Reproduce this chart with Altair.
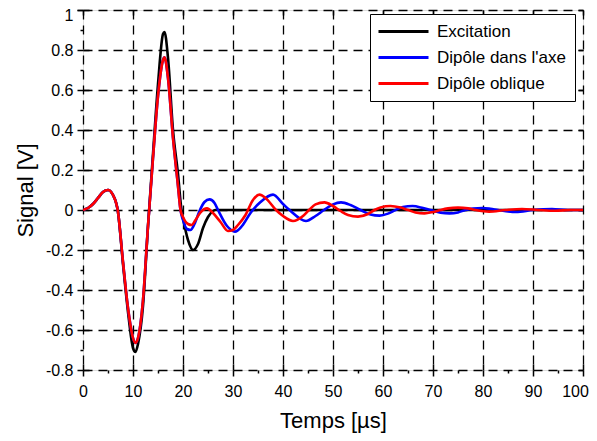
import altair as alt
import pandas as pd

# ---- data ----
series_names = ["Excitation", "Dipôle dans l'axe", "Dipôle oblique"]
series_colors = ["#000000", "#0000ff", "#ff0000"]

t_exc = [0, 1, 2, 3, 4, 5, 6, 7, 8, 9, 10, 10.5, 11, 12, 13, 14, 15, 16, 16.3,
         17, 18, 19, 19.7, 20, 21, 22, 23, 24, 25, 26, 26.5, 100]
v_exc = [0, 0.01, 0.03, 0.06, 0.09, 0.1, 0.075, -0.01, -0.27, -0.51, -0.69, -0.71,
         -0.67, -0.48, -0.08, 0.28, 0.63, 0.88, 0.89, 0.76, 0.4, 0.18, 0.0, -0.04,
         -0.15, -0.2, -0.17, -0.09, -0.035, -0.005, 0.0, 0.0]

t_axe = [0, 1, 2, 3, 4, 5, 6, 7, 8, 9, 10, 10.5, 11, 12, 13, 14, 15, 16, 16.3,
         17, 18, 19, 19.5, 20, 20.8, 21.5, 22.3, 23.3, 24.3, 25.3, 26.3, 27, 28.8,
         30.4, 31.8, 33.5, 35.5, 38, 40, 41.3, 44.6, 46.5, 48.2, 50, 51.6, 53.5,
         55.5, 57.5, 59.3, 61, 62.5, 64, 65.9, 68, 69.5, 71.5, 73.3, 75, 76.5, 78,
         79.9, 81.5, 83, 86.6, 90, 93.8, 97, 100]
v_axe = [0, 0.01, 0.03, 0.06, 0.09, 0.1, 0.075, -0.01, -0.26, -0.49, -0.64, -0.665,
         -0.64, -0.45, -0.08, 0.26, 0.57, 0.75, 0.763, 0.66, 0.36, 0.12, 0.0, -0.05,
         -0.095, -0.1, -0.07, -0.005, 0.04, 0.053, 0.035, 0.0, -0.08, -0.108, -0.08,
         -0.015, 0.04, 0.077, 0.03, 0.0, -0.055, -0.03, 0.0, 0.028, 0.038, 0.025,
         0.0, -0.022, -0.028, -0.018, 0.0, 0.015, 0.02, 0.01, 0.0, -0.013, -0.017,
         -0.012, 0.0, 0.007, 0.01, 0.006, 0.0, -0.01, 0.0, 0.005, 0.0, 0.0]

t_obl = [0, 1, 2, 3, 4, 5, 6, 7, 8, 9, 10, 10.5, 11, 12, 13, 14, 15, 16, 16.3,
         17, 18, 19, 19.5, 20, 21, 21.7, 22.5, 23.5, 24.8, 26, 27.5, 29, 30, 31,
         32.5, 34, 35.3, 36.5, 38.6, 40, 42, 44, 45.2, 46.5, 48.3, 50, 51.5, 53,
         55, 57, 58.3, 59.5, 61.5, 63.5, 65, 66.5, 68.3, 70, 71.5, 73, 75, 77,
         78.5, 81.2, 84.5, 87.8, 91, 94.5, 97.5, 100]
v_obl = [0, 0.01, 0.03, 0.06, 0.09, 0.1, 0.075, -0.01, -0.26, -0.49, -0.64, -0.665,
         -0.64, -0.45, -0.08, 0.26, 0.57, 0.75, 0.763, 0.66, 0.36, 0.12, 0.0, -0.035,
         -0.07, -0.075, -0.05, -0.012, 0.008, -0.015, -0.06, -0.105, -0.1, -0.075,
         -0.025, 0.05, 0.077, 0.06, 0.0, -0.03, -0.055, -0.03, 0.0, 0.028, 0.038,
         0.02, -0.005, -0.025, -0.033, -0.02, 0.0, 0.013, 0.02, 0.012, 0.0, -0.012,
         -0.017, -0.01, 0.0, 0.008, 0.012, 0.008, 0.0, -0.008, 0.0, 0.005, 0.0,
         -0.004, 0.0, 0.0]

x_ticks = list(range(0, 101, 10))
x_minor = list(range(5, 100, 10))
y_ticks = [-0.8, -0.6, -0.4, -0.2, 0, 0.2, 0.4, 0.6, 0.8, 1]
y_top_label = [1]
y_minor = [-0.7, -0.5, -0.3, -0.1, 0.1, 0.3, 0.5, 0.7, 0.9]

# ---- build table ----
rows = []
for name, ts, vs in [(series_names[0], t_exc, v_exc),
                     (series_names[1], t_axe, v_axe),
                     (series_names[2], t_obl, v_obl)]:
    for t, v in zip(ts, vs):
        rows.append({"t": t, "v": v, "serie": name})
df = pd.DataFrame(rows)

FONT = "Liberation Sans"
xscale = alt.Scale(domain=[0, 100], nice=False, zero=False)
yscale = alt.Scale(domain=[-0.8, 1], nice=False, zero=False)

base = alt.Chart(df)

lines = base.mark_line(strokeWidth=2.6, interpolate="monotone", clip=True).encode(
    x=alt.X("t:Q", scale=xscale, axis=alt.Axis(
        orient="bottom", values=x_ticks, title="Temps [µs]",
        grid=True, gridDash=[9, 6], gridColor="black", gridWidth=1.3, gridOpacity=1,
        domain=False, ticks=True, tickSize=6, tickWidth=1.5, tickColor="black",
        labelFontSize=16, labelFont=FONT, labelColor="black", labelPadding=7,
        labelOffset={"condition": {"test": "datum.value == 100", "value": -8}, "value": 0},
        labelFlush=False, labelOverlap=False,
        titleFontSize=22, titleFont=FONT, titleFontWeight="normal", titleColor="black",
        titleX=250, titleY=57, titleBaseline="alphabetic", titleAlign="center")),
    y=alt.Y("v:Q", scale=yscale, axis=alt.Axis(
        orient="left", values=y_ticks, title="Signal [V]",
        grid=True, gridDash=[9, 6], gridColor="black", gridWidth=1.3, gridOpacity=1,
        domain=False, ticks=True, tickSize=6, tickWidth=1.5, tickColor="black",
        labelFontSize=16, labelFont=FONT, labelColor="black", labelPadding=4,
        labelExpr="datum.value == 1 ? '' : '' + datum.value",
        labelFlush=False, labelOverlap=False,
        titleFontSize=22, titleFont=FONT, titleFontWeight="normal", titleColor="black",
        titleX=-58, titleY=180, titleAngle=270, titleBaseline="middle", titleAlign="center")),
    color=alt.Color("serie:N", title=None,
                    scale=alt.Scale(domain=series_names, range=series_colors),
                    legend=alt.Legend(orient="none", legendX=287, legendY=4,
                                      fillColor="white", strokeColor="black",
                                      padding=9, cornerRadius=0,
                                      labelFontSize=17, labelFont=FONT, labelColor="black",
                                      symbolType="M-1.8,0H8.2", symbolSize=100,
                                      symbolStrokeWidth=3, labelOffset=41, rowPadding=8)),
)

def tick_layer(xorient, yorient, xvals, yvals, size, offset):
    return base.mark_point(opacity=0).encode(
        x=alt.X("t:Q", scale=xscale, axis=alt.Axis(
            orient=xorient, values=xvals, title=None, labels=False, grid=False,
            domain=False, ticks=True, tickSize=size, tickWidth=1.5, tickColor="black",
            offset=offset)),
        y=alt.Y("v:Q", scale=yscale, axis=alt.Axis(
            orient=yorient, values=yvals, title=None, labels=False, grid=False,
            domain=False, ticks=True, tickSize=size, tickWidth=1.5, tickColor="black",
            offset=offset)),
    )

inward = tick_layer("bottom", "left", x_ticks, y_ticks, 6, -6)
topright = tick_layer("top", "right", x_ticks, y_ticks, 5, -5)
minor = tick_layer("bottom", "left", x_minor, y_minor, 3, 0)

# top "1" label, nudged slightly down so that it stays on the page
top_label = base.mark_point(opacity=0).encode(
    x=alt.X("t:Q", scale=xscale, axis=alt.Axis(
        orient="bottom", values=[0], title=None, labels=False, grid=False,
        domain=False, ticks=False)),
    y=alt.Y("v:Q", scale=yscale, axis=alt.Axis(
        orient="left", values=y_top_label, title=None, labels=True, grid=False,
        domain=False, ticks=True, tickSize=6, tickWidth=1.5, tickColor="black",
        labelFontSize=16, labelFont=FONT, labelColor="black", labelPadding=4,
        labelOffset=5, labelFlush=False, labelOverlap=False)),
)

chart = alt.layer(lines, inward, topright, minor, top_label).resolve_axis(
    x="independent", y="independent"
).properties(
    width=500, height=360,
    autosize=alt.AutoSizeParams(type="none"),
    padding={"left": 75, "top": 2, "right": 6, "bottom": 63},
).configure_view(
    stroke="black", strokeWidth=2
).configure(background="white")

chart.save("out.html", embed_options={"renderer": "svg", "actions": False})
